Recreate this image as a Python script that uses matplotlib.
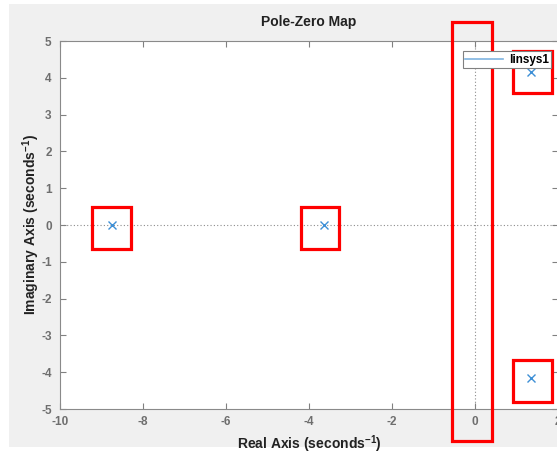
import matplotlib
matplotlib.use("Agg")
import matplotlib.pyplot as plt
from matplotlib.patches import Rectangle
from matplotlib.lines import Line2D

plt.rcParams["font.family"] = ["Liberation Sans", "DejaVu Sans"]
plt.rcParams["axes.unicode_minus"] = False
plt.rcParams["mathtext.fontset"] = "custom"
plt.rcParams["mathtext.rm"] = "Liberation Sans"
plt.rcParams["mathtext.bf"] = "Liberation Sans:bold"

# Data
pole_real = [-8.75, -3.65, 1.35, 1.35]
pole_imag = [0.0, 0.0, 4.17, -4.17]
x_ticks = [-10, -8, -6, -4, -2, 0, 2]
y_ticks = [-5, -4, -3, -2, -1, 0, 1, 2, 3, 4, 5]
series_name = "linsys1"

# Highlight boxes (data coordinates): x0, x1, y0, y1
box_x0 = [-9.23, -4.19, -0.55, 0.92, 0.92]
box_x1 = [-8.29, -3.28, 0.41, 1.86, 1.86]
box_y0 = [-0.65, -0.65, -5.87, 3.59, -4.81]
box_y1 = [0.49, 0.49, 5.52, 4.73, -3.67]

W, H = 557, 455
fig = plt.figure(figsize=(W / 100, H / 100), dpi=100)
fig.patch.set_facecolor("white")
bg = Rectangle((9 / W, 8 / H), (W - 9) / W, (451 - 8) / H,
               transform=fig.transFigure, facecolor="#f0f0f0",
               edgecolor="none", zorder=-10)
fig.add_artist(bg)

ax = fig.add_axes([60 / W, (H - 409) / H, 498 / W, 368 / H])
ax.set_zorder(5)
ax.set_facecolor("white")
blue = "#3d8fd6"

ax.axhline(0, color="#8c8c8c", linestyle=(0, (1, 2)), linewidth=0.8, zorder=1)
ax.axvline(0, color="#8c8c8c", linestyle=(0, (1, 2)), linewidth=0.8, zorder=1)
ax.plot(pole_real, pole_imag, linestyle="none", marker="x", color=blue,
        markersize=6, markeredgewidth=1.0, zorder=3)

ax.set_xlim(-10, 2)
ax.set_ylim(-5, 5)
ax.set_xticks(x_ticks)
ax.set_yticks(y_ticks)
ax.tick_params(direction="in", length=4, width=0.8, color="#808080",
               labelcolor="#6e6e6e", labelsize=8.5, top=True, right=True)
ax.tick_params(axis="x", pad=5)
ax.tick_params(axis="y", pad=6)
for lbl in ax.get_xticklabels() + ax.get_yticklabels():
    lbl.set_fontweight("bold")
for s in ax.spines.values():
    s.set_color("#8a8a8a")
    s.set_linewidth(0.8)

ax.set_title("Pole-Zero Map", fontsize=10, fontweight="bold", color="#222222", pad=11)
ax.set_xlabel("Real Axis (seconds$^{\\mathbf{-1}}$)", fontsize=10,
              fontweight="bold", color="#222222", labelpad=4)
ax.set_ylabel("Imaginary Axis (seconds$^{\\mathbf{-1}}$)", fontsize=10,
              fontweight="bold", color="#222222", labelpad=-1)

handle = Line2D([], [], color="#7fb4e0", linewidth=1.2)
leg = ax.legend([handle], [series_name], loc="upper right",
                bbox_to_anchor=(0.986, 0.972), fancybox=False, framealpha=1,
                edgecolor="#808080", borderpad=0.2, handlelength=3.2,
                handletextpad=0.5, borderaxespad=0,
                prop={"weight": "bold", "size": 8.5})
leg.get_frame().set_linewidth(0.8)

for x0, x1, y0, y1 in zip(box_x0, box_x1, box_y0, box_y1):
    ax.add_patch(Rectangle((x0, y0), x1 - x0, y1 - y0, fill=False,
                           edgecolor="red", linewidth=2.3, clip_on=False, zorder=5))

fig.savefig("out.png", dpi=100)
